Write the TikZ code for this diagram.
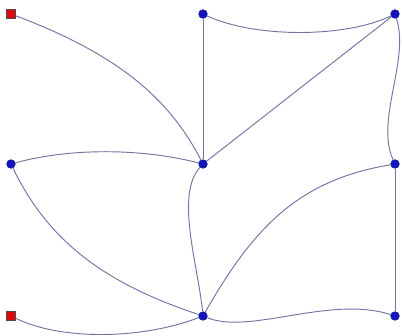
\documentclass[tikz,border=0pt]{standalone}
\usepackage{tikz}
\usetikzlibrary{positioning}
\definecolor{edgegray}{RGB}{112,116,160}
\definecolor{vertexblue}{RGB}{20,20,190}
\definecolor{terminalred}{RGB}{220,10,10}

\begin{document}
\begin{tikzpicture}[
    x=0.03cm, y=-0.03cm,
    vertex/.style={circle, fill=vertexblue, draw=vertexblue!70!black, inner sep=0pt, minimum size=2.6mm},
    terminal/.style={rectangle, fill=terminalred, draw=black!70, line width=0.4pt, inner sep=0pt, minimum size=2.8mm},
    edge/.style={draw=edgegray, line width=0.8pt}
  ]
    \useasboundingbox (0,0) rectangle (402,335);

    \node[terminal] (src) at (11,14) {};
    \node[terminal] (snk) at (11,316) {};
    \node[vertex] (top) at (203,14) {};
    \node[vertex] (topright) at (395,14) {};
    \node[vertex] (left) at (11,164) {};
    \node[vertex] (hub) at (203,164) {};
    \node[vertex] (right) at (395,164) {};
    \node[vertex] (bottom) at (203,316) {};
    \node[vertex] (corner) at (395,316) {};

    \draw[edge] (src) .. controls (120,55) and (170,100) .. (hub);
    \draw[edge] (top) .. controls (255,38) and (345,38) .. (topright);
    \draw[edge] (top) -- (hub);
    \draw[edge] (topright) -- (hub);
    \draw[edge] (topright) .. controls (410,60) and (375,120) .. (right);
    \draw[edge] (left) .. controls (70,148) and (140,148) .. (hub);
    \draw[edge] (left) .. controls (50,245) and (110,285) .. (bottom);
    \draw[edge] (hub) .. controls (175,195) and (198,265) .. (bottom);
    \draw[edge] (right) .. controls (300,180) and (255,225) .. (bottom);
    \draw[edge] (right) -- (corner);
    \draw[edge] (bottom) .. controls (250,335) and (330,295) .. (corner);
    \draw[edge] (snk) .. controls (60,340) and (140,340) .. (bottom);
  \end{tikzpicture}
\end{document}
